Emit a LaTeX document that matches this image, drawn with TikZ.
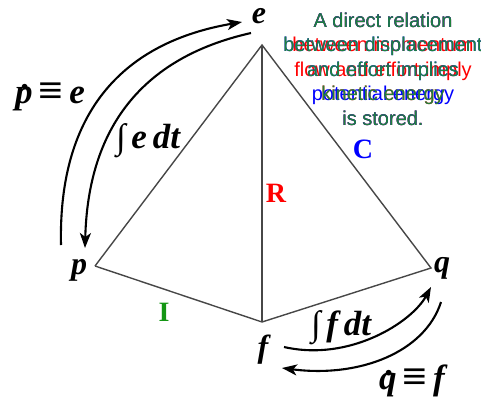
\documentclass[tikz,border=0pt]{standalone}
\usepackage{fontspec}
\setmainfont{Liberation Serif}
\newfontfamily\lsans{Liberation Sans}
\usetikzlibrary{arrows.meta}
\definecolor{igreen}{RGB}{20,150,20}
\definecolor{tgreen}{RGB}{30,130,60}
\newcommand\dotover[1]{\ooalign{#1\cr\hidewidth\kern0.12em\raisebox{0.40em}{.}\hidewidth\cr}}
\newcommand\bigeq{\scalebox{1.25}[1.1]{≡}}
\tikzset{
  vtx/.style={font=\fontsize{32}{32}\selectfont\bfseries\itshape, inner sep=0pt},
  edgeline/.style={draw=black!72, line width=1.4pt},
  flowarrow/.style={line width=2.1pt, -{Stealth[length=15pt,width=11pt,inset=4pt]}},
  lbl/.style={font=\fontsize{35}{35}\selectfont\bfseries\itshape, inner sep=0pt},
  elem/.style={font=\fontsize{28}{28}\selectfont\bfseries, inner sep=0pt},
  note/.style={font=\lsans\fontsize{20}{24.5}\selectfont, align=center, inner sep=0pt}
}
\begin{document}
\begin{tikzpicture}[x=1pt,y=-1pt]
\useasboundingbox (0,0) rectangle (481,399);
% vertices
\coordinate (ve) at (262,45);
\coordinate (vp) at (95,266);
\coordinate (vf) at (262,322);
\coordinate (vq) at (431,268);
\draw[edgeline, line join=miter] (vp) -- (ve) -- (vq) -- (vf) -- (vp);
\draw[edgeline] (ve) -- (vf);
% vertex labels
\node[vtx] (le) at (259,16) {e};
\node[vtx] (lp) at (79,270) {p};
\node[vtx] (lf) at (263,350) {f};
\node[vtx] (lq) at (442,268) {q};
% element labels
\node[elem, text=red] (R) at (276,193) {R};
\node[elem, text=blue] (C) at (363,149) {C};
\node[elem, text=igreen] (I) at (164,312) {I};
% note text (three overlapping versions)
\node[note, text=red] (nr) at (383,69) {A direct relation\\between momentum\\flow and effort imply\\kinetic energy\\is stored.};
\node[note, text=blue] (nb) at (383,69) {A direct relation\\between displacement\\and effort implies\\potential energy\\is stored.};
\node[note, text=tgreen] (ng) at (383,69) {A direct relation\\between displacement\\and effort implies\\kinetic energy\\is stored.};
% arrows
\coordinate (a1s) at (61,245);
\coordinate (a1e) at (242,22);
\draw[flowarrow] (a1s) .. controls (58,110) and (125,42) .. (a1e);
\coordinate (a2s) at (251,33);
\coordinate (a2e) at (85,248);
\draw[flowarrow] (a2s) .. controls (140,58) and (88,130) .. (a2e);
\coordinate (a3s) at (284,347);
\coordinate (a3e) at (431,287);
\draw[flowarrow] (a3s) .. controls (350,362) and (412,322) .. (a3e);
\coordinate (a4s) at (441,302);
\coordinate (a4e) at (282,368);
\draw[flowarrow] (a4s) .. controls (425,352) and (360,378) .. (a4e);
% arrow labels
\node[lbl] (pd) at (50,93) {\dotover{p}\,\bigeq\,e};
\node[lbl] (ie) at (148,141) {∫\,e\,dt};
\node[lbl] (iff) at (341,328) {∫\,f\,dt};
\node[lbl] (qd) at (412,381) {\dotover{q}\,\bigeq\,f};
\end{tikzpicture}
\end{document}
